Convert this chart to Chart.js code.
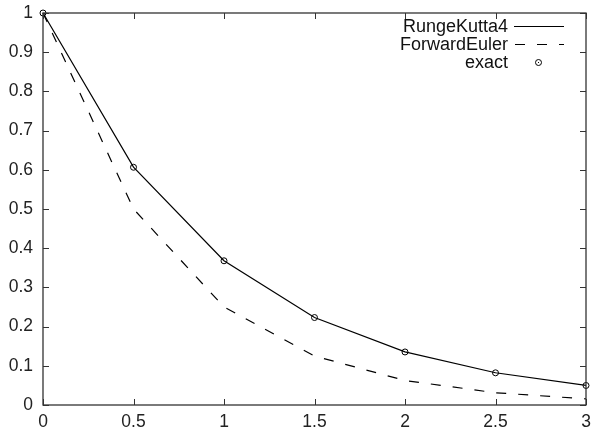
<!DOCTYPE html>
<html>
<head>
<meta charset="utf-8">
<script src="https://cdn.jsdelivr.net/npm/chart.js@4/dist/chart.umd.min.js"></script>
<style>
  html, body { margin: 0; padding: 0; background: #fff; }
  #wrap { width: 592px; height: 435px; }
</style>
</head>
<body>
<div id="wrap"><canvas id="c" width="592" height="435"></canvas></div>
<script>
// time points and solution values
const tValues = [0, 0.5, 1, 1.5, 2, 2.5, 3];
const rk4 = [1, 0.6067, 0.3681, 0.2233, 0.1355, 0.0822, 0.0499];
const euler = [1, 0.5, 0.25, 0.125, 0.0625, 0.0313, 0.0156];
const exact = [1, 0.6065, 0.3679, 0.2231, 0.1353, 0.0821, 0.0498];
const seriesNames = ['RungeKutta4', 'ForwardEuler', 'exact'];

const FAMILY = '"Liberation Sans", Arial, sans-serif';
const DASH = [10, 12];

function pts(ys) {
  return tValues.map((t, i) => ({ x: t, y: ys[i] }));
}

function fmt(v) {
  return String(Number(v.toFixed(2)));
}

// gnuplot style box with inward ticks on all four sides, plus key
const frame = {
  id: 'frame',
  afterDatasetsDraw(chart) {
    const { ctx, chartArea: a, scales } = chart;
    ctx.save();
    ctx.strokeStyle = '#333';
    ctx.lineWidth = 1.3;
    ctx.strokeRect(a.left, a.top, a.right - a.left, a.bottom - a.top);
    ctx.lineWidth = 1;
    ctx.beginPath();
    scales.x.ticks.forEach(tk => {
      const px = Math.round(scales.x.getPixelForValue(tk.value)) + 0.5;
      ctx.moveTo(px, a.bottom); ctx.lineTo(px, a.bottom - 6);
      ctx.moveTo(px, a.top); ctx.lineTo(px, a.top + 6);
    });
    scales.y.ticks.forEach(tk => {
      const py = Math.round(scales.y.getPixelForValue(tk.value)) + 0.5;
      ctx.moveTo(a.left, py); ctx.lineTo(a.left + 6, py);
      ctx.moveTo(a.right, py); ctx.lineTo(a.right - 6, py);
    });
    ctx.stroke();

    // key, top right
    ctx.font = '18px ' + FAMILY;
    ctx.fillStyle = '#111';
    ctx.textAlign = 'right';
    ctx.textBaseline = 'middle';
    const tx = 508, x0 = 514, x1 = 564;
    const rows = [26, 44, 62];
    seriesNames.forEach((name, i) => {
      ctx.fillText(name, tx, rows[i] + 1);
    });
    ctx.strokeStyle = '#000';
    ctx.lineWidth = 1.2;
    ctx.beginPath();
    ctx.moveTo(x0, rows[0] + 0.5); ctx.lineTo(x1, rows[0] + 0.5);
    ctx.stroke();
    ctx.setLineDash(DASH);
    ctx.beginPath();
    ctx.moveTo(x0 + 1, rows[1] + 0.5); ctx.lineTo(x1, rows[1] + 0.5);
    ctx.stroke();
    ctx.setLineDash([]);
    ctx.lineWidth = 1;
    ctx.beginPath();
    ctx.arc(538.5, rows[2] + 0.5, 3, 0, Math.PI * 2);
    ctx.stroke();
    ctx.fillStyle = '#000';
    ctx.fillRect(538, rows[2], 1, 1);
    ctx.restore();
  }
};

new Chart(document.getElementById('c'), {
  type: 'scatter',
  data: {
    datasets: [
      {
        label: seriesNames[0],
        data: pts(rk4),
        showLine: true,
        borderColor: '#000',
        borderWidth: 1.2,
        pointRadius: 0,
        tension: 0
      },
      {
        label: seriesNames[1],
        data: pts(euler),
        showLine: true,
        borderColor: '#000',
        borderWidth: 1.2,
        borderDash: DASH,
        pointRadius: 0,
        tension: 0
      },
      {
        label: seriesNames[2],
        data: pts(exact),
        showLine: false,
        borderColor: '#000',
        backgroundColor: 'rgba(0,0,0,0)',
        borderWidth: 1,
        pointRadius: 3,
        pointStyle: 'circle'
      }
    ]
  },
  options: {
    responsive: false,
    animation: false,
    clip: false,
    layout: { padding: { top: 13, right: 6, left: 0, bottom: 0 } },
    plugins: { legend: { display: false }, tooltip: { enabled: false } },
    scales: {
      x: {
        type: 'linear',
        min: 0, max: 3,
        grid: { display: false, drawTicks: false },
        border: { display: false },
        afterFit(s) { s.height = 30; s.paddingLeft = 0; s.paddingRight = 0; },
        ticks: {
          stepSize: 0.5,
          padding: 7,
          color: '#222',
          font: { family: FAMILY, size: 17.5 },
          maxRotation: 0,
          autoSkip: false,
          callback: v => fmt(v)
        }
      },
      y: {
        type: 'linear',
        min: 0, max: 1,
        grid: { display: false, drawTicks: false },
        border: { display: false },
        afterFit(s) { s.width = 43; s.paddingTop = 0; s.paddingBottom = 0; },
        ticks: {
          stepSize: 0.1,
          padding: 10,
          color: '#222',
          font: { family: FAMILY, size: 17.5 },
          autoSkip: false,
          callback: v => fmt(v)
        }
      }
    }
  },
  plugins: [frame]
});
</script>
</body>
</html>
